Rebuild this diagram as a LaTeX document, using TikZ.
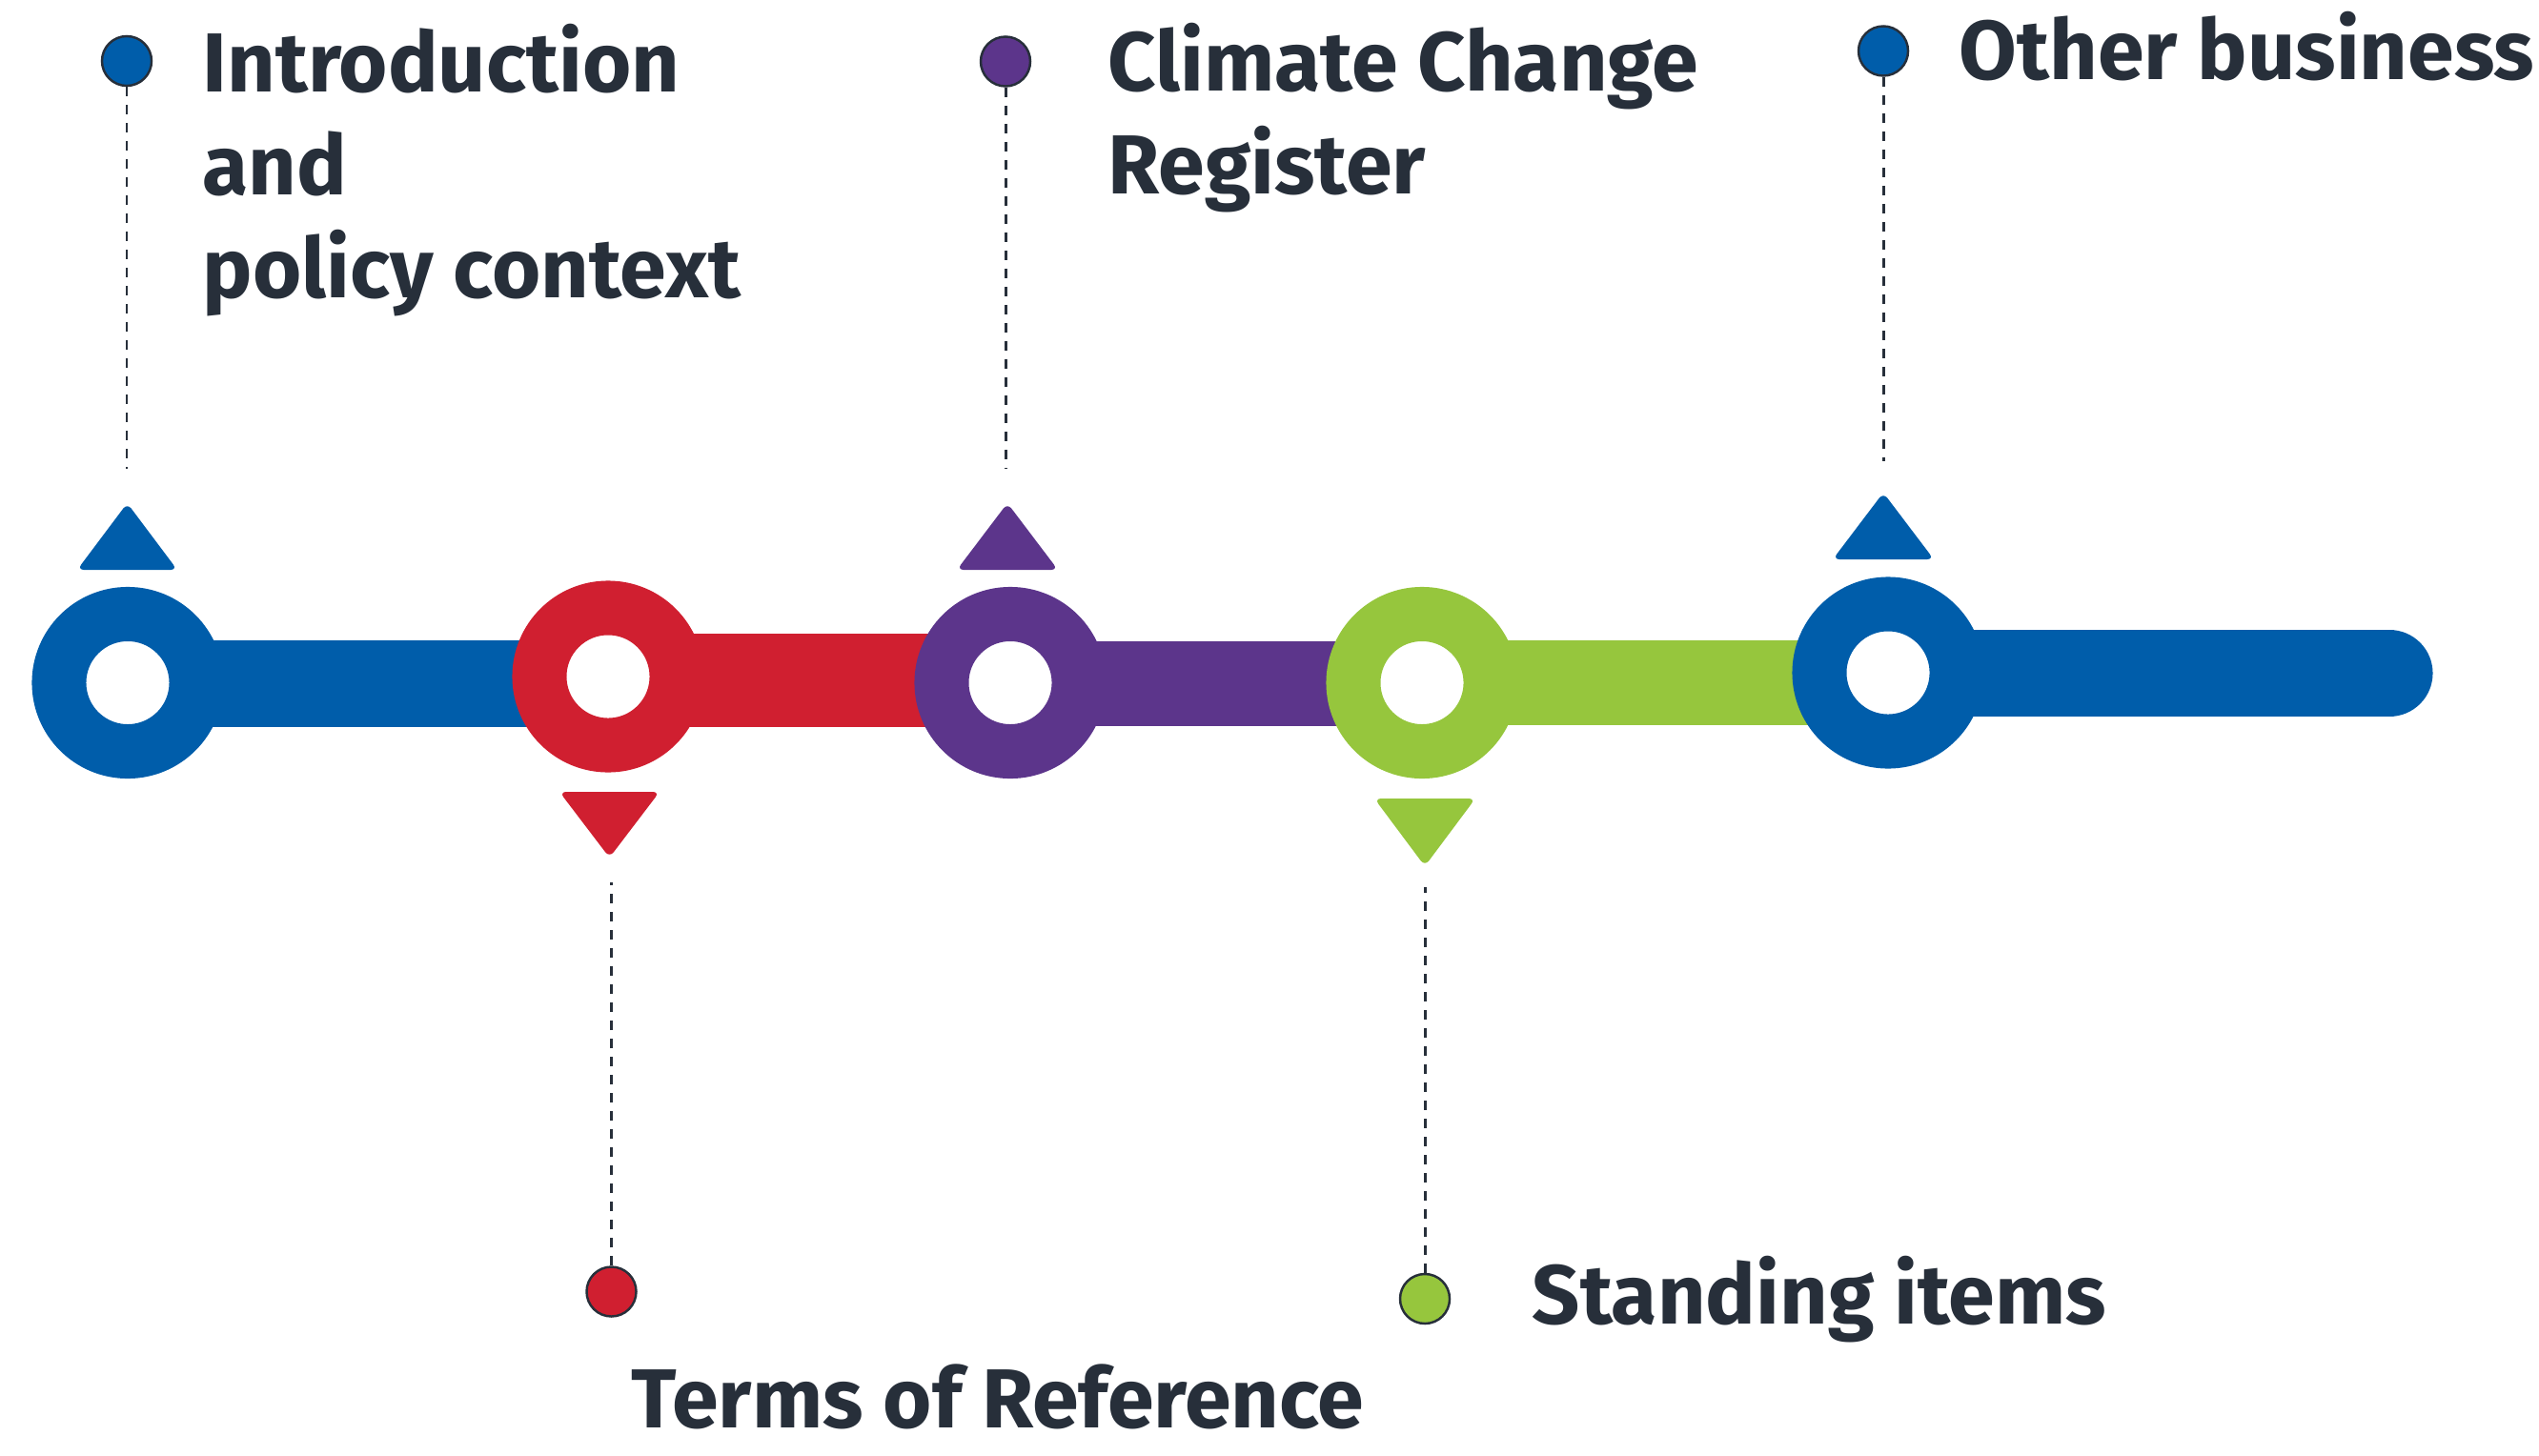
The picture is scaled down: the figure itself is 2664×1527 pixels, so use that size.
\documentclass[tikz,border=0pt]{standalone}
\usepackage{fontspec}
\setmainfont{Fira Sans}
\usepackage{xcolor}
\usetikzlibrary{arrows, positioning, calc}

\definecolor{tlblue}{HTML}{005DAA}
\definecolor{tlred}{HTML}{D01F30}
\definecolor{tlpurple}{HTML}{5C358B}
\definecolor{tlgreen}{HTML}{96C63D}
\definecolor{tltext}{HTML}{272F3A}

\begin{document}
\begin{tikzpicture}[x=0.01cm,y=-0.01cm,
		ring/.style={circle,draw=#1,fill=white,line width=0.57cm,minimum size=1.44cm,inner sep=0pt},
		dot/.style={circle,fill=#1,draw=tltext,line width=0.7pt,minimum size=0.52cm,inner sep=0pt},
		leader/.style={draw=tltext,line width=0.85pt,dash pattern=on 0.1cm off 0.09cm},
		item text/.style={anchor=base west,inner sep=0pt,align=left,text=tltext,
			font=\fontsize{25}{30.6}\selectfont\bfseries}]
	
	\useasboundingbox (0,0) rectangle (2664,1527);
	
	% the line
	\draw[tlblue, line width=0.91cm] (135,717.5) -- (638,717.5);
	\draw[tlred, line width=0.98cm] (638,714) -- (1060,714);
	\draw[tlpurple, line width=0.89cm] (1060,717.5) -- (1492,717.5);
	\draw[tlgreen, line width=0.89cm] (1492,716.5) -- (1981,716.5);
	\draw[tlblue, line width=0.91cm, line cap=round] (1981,706.5) -- (2507,706.5);
	
	\node[ring=tlblue] (r1) at (134,716.5) {};
	\node[ring=tlred] (r2) at (638,710) {};
	\node[ring=tlpurple] (r3) at (1060,716.5) {};
	\node[ring=tlgreen] (r4) at (1492,716.5) {};
	\node[ring=tlblue] (r5) at (1981,706) {};
	
	% markers
	\fill[tlblue, rounded corners=2pt] (81,598) -- (133.5,528) -- (186,598) -- cycle;
	\fill[tlred, rounded corners=2pt] (587,831) -- (639.5,900) -- (692,831) -- cycle;
	\fill[tlpurple, rounded corners=2pt] (1004,598) -- (1057,528) -- (1110,598) -- cycle;
	\fill[tlgreen, rounded corners=2pt] (1442,838) -- (1495,909) -- (1548,838) -- cycle;
	\fill[tlblue, rounded corners=2pt] (1923,587) -- (1976,517) -- (2029,587) -- cycle;
	
	\node[dot=tlblue] (d1) at (133,64) {};
	\node[dot=tlred] (d2) at (641.5,1355.5) {};
	\node[dot=tlpurple] (d3) at (1055,64.5) {};
	\node[dot=tlgreen] (d4) at (1495,1363) {};
	\node[dot=tlblue] (d5) at (1976,53.5) {};
	
	\coordinate (t1) at (133,492);
	\coordinate (t2) at (641.5,926);
	\coordinate (t3) at (1055,492);
	\coordinate (t4) at (1495,931);
	\coordinate (t5) at (1976,484);
	
	\draw[leader] (d1) -- (t1);
	\draw[leader] (d2) -- (t2);
	\draw[leader] (d3) -- (t3);
	\draw[leader] (d4) -- (t4);
	\draw[leader] (d5) -- (t5);
	
	% texts (base = last line)
	\node[item text] (l1) at (212,312) {Introduction\\and\\policy context};
	\node[item text] (l2) at (2055,83) {Other business};
	\node[item text] (l3) at (1162,203) {Climate Change\\Register};
	\node[item text] (l4) at (662,1498) {Terms of Reference};
	\node[item text] (l5) at (1607,1389) {Standing items};
\end{tikzpicture}
\end{document}
